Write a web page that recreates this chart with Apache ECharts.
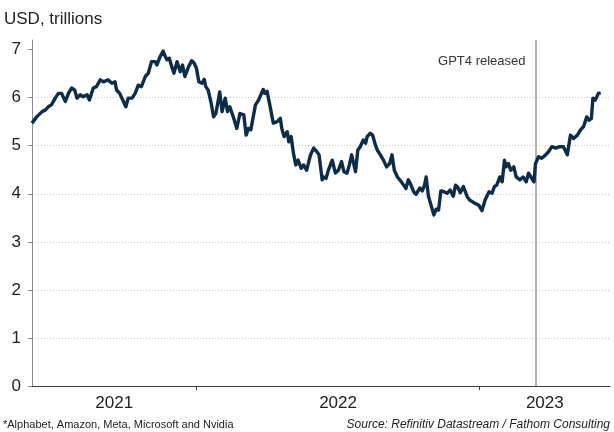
<!DOCTYPE html>
<html>
<head>
<meta charset="utf-8">
<script src="https://cdn.jsdelivr.net/npm/echarts@6/dist/echarts.min.js"></script>
<style>
  html, body { margin: 0; padding: 0; background: #ffffff; }
  #chart { width: 614px; height: 432px; }
</style>
</head>
<body>
<div id="chart"></div>
<script>
// Combined market value of five big tech companies, USD trillions
const dates = [
  '2021-06-03','2021-06-09','2021-06-16','2021-06-20','2021-06-24','2021-06-28','2021-07-03','2021-07-07',
  '2021-07-11','2021-07-16','2021-07-20','2021-07-24','2021-07-28','2021-07-31','2021-08-04','2021-08-08',
  '2021-08-13','2021-08-16','2021-08-21','2021-08-25','2021-08-30','2021-09-03','2021-09-09','2021-09-14',
  '2021-09-18','2021-09-20','2021-09-24','2021-09-28','2021-10-02','2021-10-05','2021-10-10','2021-10-14',
  '2021-10-18','2021-10-22','2021-10-27','2021-10-31','2021-11-04','2021-11-09','2021-11-11','2021-11-15',
  '2021-11-19','2021-11-22','2021-11-24','2021-11-27','2021-11-30','2021-12-03','2021-12-07','2021-12-11',
  '2021-12-14','2021-12-17','2021-12-22','2021-12-26','2021-12-29','2022-01-01','2022-01-04','2022-01-08',
  '2022-01-11','2022-01-13','2022-01-16','2022-01-20','2022-01-23','2022-01-26','2022-01-31','2022-02-03',
  '2022-02-07','2022-02-10','2022-02-13','2022-02-18','2022-02-22','2022-02-26','2022-03-03','2022-03-06',
  '2022-03-09','2022-03-12','2022-03-18','2022-03-22','2022-03-24','2022-03-28','2022-03-30','2022-04-02',
  '2022-04-06','2022-04-10','2022-04-15','2022-04-19','2022-04-21','2022-04-24','2022-04-28','2022-04-30',
  '2022-05-03','2022-05-06','2022-05-09','2022-05-12','2022-05-16','2022-05-19','2022-05-23','2022-05-28',
  '2022-06-01','2022-06-05','2022-06-08','2022-06-12','2022-06-14','2022-06-17','2022-06-20','2022-06-25',
  '2022-06-29','2022-07-03','2022-07-07','2022-07-10','2022-07-14','2022-07-17','2022-07-20','2022-07-25',
  '2022-07-28','2022-07-31','2022-08-04','2022-08-07','2022-08-09','2022-08-13','2022-08-16','2022-08-19',
  '2022-08-22','2022-08-26','2022-08-30','2022-09-03','2022-09-07','2022-09-10','2022-09-13','2022-09-17',
  '2022-09-21','2022-09-25','2022-09-28','2022-10-01','2022-10-04','2022-10-08','2022-10-11','2022-10-16',
  '2022-10-19','2022-10-22','2022-10-24','2022-10-27','2022-10-30','2022-11-03','2022-11-06','2022-11-09',
  '2022-11-12','2022-11-15','2022-11-20','2022-11-24','2022-11-28','2022-12-01','2022-12-04','2022-12-07',
  '2022-12-11','2022-12-16','2022-12-19','2022-12-26','2022-12-31','2023-01-04','2023-01-08','2023-01-13',
  '2023-01-17','2023-01-20','2023-01-23','2023-01-27','2023-01-30','2023-02-02','2023-02-04','2023-02-07',
  '2023-02-10','2023-02-14','2023-02-17','2023-02-22','2023-02-26','2023-03-02','2023-03-05','2023-03-08',
  '2023-03-12','2023-03-14','2023-03-18','2023-03-22','2023-03-27','2023-03-31','2023-04-04','2023-04-09',
  '2023-04-14','2023-04-19','2023-04-24','2023-04-28','2023-05-02','2023-05-07','2023-05-11','2023-05-15',
  '2023-05-19','2023-05-22','2023-05-25','2023-05-27','2023-05-30','2023-06-03','2023-06-06'
];

const values = [
  5.47, 5.60, 5.71, 5.74, 5.81, 5.85, 5.99, 6.09,
  6.09, 5.92, 6.09, 6.20, 6.16, 5.99, 6.06, 6.02,
  6.06, 5.95, 6.20, 6.23, 6.37, 6.33, 6.37, 6.30,
  6.33, 6.16, 6.09, 5.95, 5.81, 5.99, 5.99, 6.09,
  6.26, 6.23, 6.44, 6.51, 6.75, 6.75, 6.68, 6.85,
  6.97, 6.85, 6.79, 6.82, 6.65, 6.51, 6.75, 6.54,
  6.68, 6.44, 6.65, 6.77, 6.72, 6.61, 6.33, 6.30,
  6.38, 6.23, 6.16, 5.88, 5.60, 5.67, 6.12, 5.71,
  5.99, 5.71, 5.81, 5.57, 5.36, 5.67, 5.64, 5.22,
  5.36, 5.33, 5.85, 5.95, 5.92, 6.17, 6.09, 6.13,
  5.81, 5.47, 5.50, 5.57, 5.36, 5.19, 5.29, 5.08,
  5.19, 4.84, 4.60, 4.70, 4.53, 4.60, 4.49, 4.81,
  4.95, 4.88, 4.81, 4.29, 4.35, 4.32, 4.49, 4.70,
  4.43, 4.49, 4.67, 4.46, 4.43, 4.60, 4.81, 4.46,
  4.91, 4.98, 5.12, 5.05, 5.19, 5.26, 5.22, 5.05,
  4.91, 4.81, 4.70, 4.56, 4.63, 4.81, 4.49, 4.35,
  4.27, 4.18, 4.11, 4.29, 4.20, 4.04, 3.99, 4.12,
  4.06, 4.18, 4.35, 3.95, 3.78, 3.56, 3.68, 3.66,
  4.06, 4.05, 4.01, 4.08, 3.95, 4.18, 4.13, 4.02,
  4.15, 3.94, 3.87, 3.80, 3.76, 3.65, 3.87, 4.04,
  4.01, 4.15, 4.18, 4.35, 4.25, 4.70, 4.56, 4.63,
  4.49, 4.56, 4.35, 4.29, 4.35, 4.25, 4.43, 4.35,
  4.25, 4.63, 4.77, 4.74, 4.81, 4.88, 4.98, 4.95,
  4.98, 4.98, 4.81, 5.22, 5.15, 5.22, 5.33, 5.40,
  5.60, 5.53, 5.57, 5.99, 5.95, 6.09, 6.10
];

const yTicks = [0, 1, 2, 3, 4, 5, 6, 7];
const axisStart = '2021-06-03';
const axisEnd = '2023-06-18';
const yearStarts = ['2022-01-01', '2023-01-01'];
const eventDate = '2023-03-14';
const eventLabel = 'GPT4 released';
const unitLabel = 'USD, trillions';
const noteText = '*Alphabet, Amazon, Meta, Microsoft and Nvidia';
const sourceText = 'Source: Refinitiv Datastream / Fathom Consulting';

const FONT = '"Liberation Sans", Arial, Helvetica, sans-serif';

// dates are turned into UTC milliseconds for a plain numeric x axis
function toTime(s) {
  const p = s.split('-').map(Number);
  return Date.UTC(p[0], p[1] - 1, p[2]);
}

// year labels sit in the middle of each visible year span
const bounds = [axisStart].concat(yearStarts, [axisEnd]).map(toTime);
const yearLabelAt = [];
for (let i = 0; i < bounds.length - 1; i++) {
  yearLabelAt.push((bounds[i] + bounds[i + 1]) / 2);
}
const yearTickAt = yearStarts.map(toTime);

const seriesData = dates.map((d, i) => [toTime(d), values[i]]);

const chart = echarts.init(document.getElementById('chart'), null, { renderer: 'canvas' });

chart.setOption({
  animation: false,
  backgroundColor: '#ffffff',
  textStyle: { fontFamily: FONT },
  title: [
    {
      text: unitLabel, left: 4, top: 11, padding: 0,
      textStyle: { fontFamily: FONT, fontSize: 17, fontWeight: 'normal', color: '#222222' }
    },
    {
      text: noteText, left: 3, top: 419, padding: 0,
      textStyle: { fontFamily: FONT, fontSize: 11, fontWeight: 'normal', color: '#222222' }
    },
    {
      text: sourceText, right: 4, top: 419, padding: 0,
      textStyle: { fontFamily: FONT, fontSize: 12, fontWeight: 'normal', fontStyle: 'italic', color: '#222222' }
    }
  ],
  grid: { left: 32, right: 4, top: 40, bottom: 46, containLabel: false },
  xAxis: {
    type: 'value',
    min: toTime(axisStart),
    max: toTime(axisEnd),
    axisLine: { show: true, onZero: false, lineStyle: { color: '#3a3a3a', width: 1 } },
    axisTick: {
      show: true, length: 4, inside: false,
      customValues: yearTickAt,
      lineStyle: { color: '#3a3a3a', width: 1 }
    },
    axisLabel: {
      show: true,
      customValues: yearLabelAt,
      formatter: (v) => String(new Date(v).getUTCFullYear()),
      fontFamily: FONT, fontSize: 17, color: '#222222', margin: 9
    },
    splitLine: { show: false }
  },
  yAxis: {
    type: 'value',
    min: 0,
    max: 7.2,
    interval: 1,
    axisLine: { show: true, lineStyle: { color: '#8a8a8a', width: 1 } },
    axisTick: {
      show: true, length: 4, inside: false,
      customValues: yTicks,
      lineStyle: { color: '#8a8a8a', width: 1 }
    },
    axisLabel: {
      show: true, customValues: yTicks,
      fontFamily: FONT, fontSize: 17, color: '#222222', margin: 11
    },
    splitLine: {
      show: true, showMinLine: false, showMaxLine: false,
      lineStyle: { color: '#c4c4c4', width: 1, type: [1, 2] }
    }
  },
  series: [
    {
      type: 'line',
      data: seriesData,
      showSymbol: false,
      symbol: 'none',
      lineStyle: { color: '#0d2c47', width: 3.4, join: 'round' },
      z: 3,
      markLine: {
        silent: true,
        symbol: 'none',
        label: { show: false },
        lineStyle: { color: '#9a9a9a', width: 1.5, type: 'solid' },
        data: [{ xAxis: toTime(eventDate) }],
        z: 2
      },
      markPoint: {
        silent: true,
        symbol: 'circle',
        symbolSize: 0,
        itemStyle: { color: 'transparent' },
        label: {
          show: true, position: 'left', distance: 10,
          formatter: eventLabel,
          fontFamily: FONT, fontSize: 13, color: '#333333'
        },
        data: [{ coord: [toTime(eventDate), 6.76] }]
      }
    }
  ]
});
</script>
</body>
</html>
